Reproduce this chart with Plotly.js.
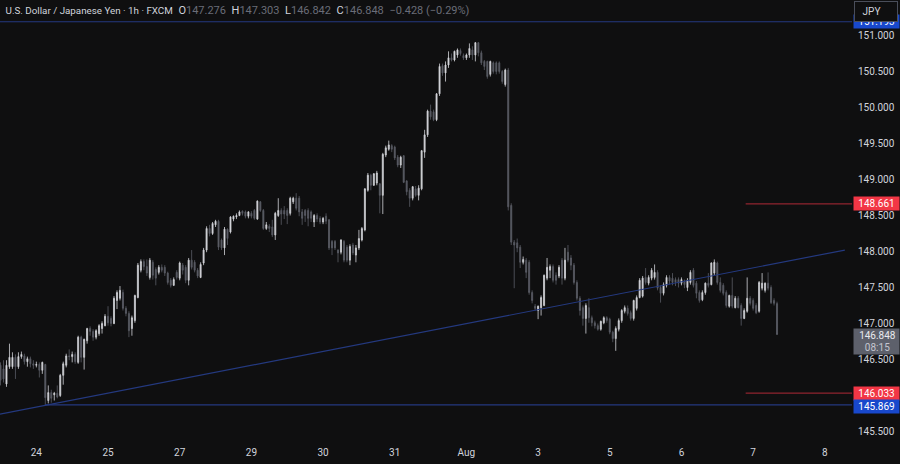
<!DOCTYPE html>
<html><head><meta charset="utf-8">
<script src="https://cdn.plot.ly/plotly-3.0.1.min.js"></script>
<style>html,body{margin:0;padding:0;background:#0f0f10}#c{width:900px;height:464px}</style>
</head><body><div id="c"></div>
<script>
const open=[146.42,146.37,146.16,146.40,146.40,146.53,146.40,146.54,146.55,146.47,
146.51,146.44,146.42,146.43,146.35,146.43,145.93,146.04,146.01,146.03,
146.00,146.28,146.42,146.55,146.54,146.57,146.46,146.81,146.53,146.76,
146.93,146.89,146.81,146.86,146.93,146.97,147.10,147.07,147.00,147.32,
147.35,147.43,147.21,147.14,146.93,147.04,147.36,147.74,147.86,147.79,
147.64,147.85,147.75,147.71,147.78,147.78,147.70,147.60,147.53,147.71,
147.63,147.81,147.78,147.60,147.88,147.85,147.74,147.64,147.84,148.02,
148.32,148.25,148.37,148.42,148.16,148.05,148.31,148.27,148.45,148.48,
148.50,148.56,148.55,148.49,148.53,148.57,148.45,148.69,148.57,148.32,
148.35,148.34,148.23,148.50,148.57,148.57,148.57,148.53,148.69,148.74,
148.74,148.55,148.57,148.57,148.55,148.41,148.50,148.46,148.41,148.49,
148.44,148.14,148.14,148.02,147.99,148.14,148.06,147.88,148.09,147.95,
148.05,148.16,148.30,148.85,149.06,148.92,148.95,148.94,148.78,149.34,
149.42,149.47,149.45,149.31,149.20,149.33,148.98,148.85,148.74,148.87,
148.78,148.87,149.38,149.62,149.95,149.94,149.83,150.19,150.58,150.48,
150.59,150.69,150.66,150.73,150.79,150.72,150.69,150.73,150.80,150.73,
150.90,150.76,150.64,150.64,150.46,150.62,150.62,150.62,150.50,150.32,
150.52,
148.64,148.13,148.12,148.06,147.85,147.88,147.85,147.43,147.24,147.18,
147.22,147.25,147.63,147.74,147.79,147.67,147.66,147.88,147.63,147.99,
147.91,147.81,147.57,147.35,147.22,147.07,147.22,147.08,147.01,146.97,
146.92,147.01,147.08,147.06,146.88,146.79,146.92,147.04,147.17,147.21,
147.15,147.07,147.21,147.36,147.38,147.64,147.56,147.63,147.64,147.71,
147.50,147.42,147.53,147.64,147.63,147.61,147.61,147.56,147.59,147.50,
147.57,147.74,147.56,147.43,147.33,147.43,147.56,147.54,147.70,147.84,
147.57,147.53,147.43,147.24,147.39,147.22,147.35,147.25,147.07,147.17,
147.35,147.32,147.25,147.17,147.49,147.46,147.56,147.50,147.32,147.276];
const high=[146.46,146.49,146.49,146.72,146.60,146.57,146.60,146.61,146.58,146.54,
146.54,146.49,146.47,146.46,146.47,146.44,146.14,146.08,146.05,146.14,
146.30,146.47,146.58,146.64,146.61,146.60,146.83,146.83,146.79,146.94,
146.96,146.92,146.92,146.99,147.03,147.13,147.24,147.10,147.38,147.46,
147.52,147.47,147.24,147.17,147.11,147.40,147.84,147.89,147.89,147.89,
147.91,147.88,147.78,147.81,147.82,147.81,147.72,147.63,147.64,147.74,
147.86,147.84,147.81,147.91,148.02,147.88,147.77,147.85,148.05,148.35,
148.37,148.41,148.44,148.44,148.18,148.34,148.32,148.49,148.50,148.53,
148.57,148.57,148.57,148.56,148.56,148.59,148.71,148.70,148.59,148.41,
148.38,148.44,148.55,148.74,148.60,148.63,148.60,148.76,148.76,148.81,
148.77,148.59,148.59,148.60,148.57,148.52,148.53,148.49,148.48,148.53,
148.45,148.16,148.16,148.03,148.17,148.16,148.09,148.10,148.12,148.09,
148.30,148.34,148.88,149.09,149.08,149.09,149.12,148.95,149.37,149.47,
149.54,149.49,149.47,149.34,149.33,149.34,148.99,148.88,148.91,148.91,
148.92,149.41,149.69,149.97,150.04,149.97,150.20,150.61,150.61,150.64,
150.78,150.75,150.79,150.82,150.82,150.75,150.75,150.89,150.85,150.91,
150.91,150.79,150.66,150.65,150.65,150.64,150.64,150.64,150.52,150.54,
150.55,
148.67,148.16,148.18,148.09,147.93,147.91,147.88,147.46,147.27,147.25,
147.39,147.68,147.91,147.82,147.82,147.71,147.81,147.91,148.05,148.09,
147.95,147.84,147.60,147.38,147.25,147.28,147.35,147.11,147.04,147.00,
147.04,147.10,147.10,147.08,146.90,146.96,147.07,147.20,147.25,147.25,
147.18,147.33,147.39,147.63,147.66,147.77,147.67,147.77,147.82,147.74,
147.53,147.57,147.67,147.67,147.70,147.64,147.64,147.64,147.61,147.63,
147.74,147.77,147.59,147.46,147.46,147.57,147.70,147.85,147.89,147.86,
147.64,147.56,147.46,147.40,147.64,147.38,147.38,147.28,147.21,147.64,
147.38,147.35,147.28,147.59,147.70,147.57,147.71,147.53,147.35,147.303];
const low=[146.14,146.18,146.12,146.37,146.37,146.23,146.37,146.51,146.43,146.40,
146.39,146.37,146.39,146.25,146.30,145.86,145.89,145.90,145.93,145.96,
145.98,146.15,146.39,146.49,146.46,146.44,146.44,146.46,146.36,146.72,
146.83,146.76,146.78,146.83,146.86,146.96,146.97,146.96,146.99,147.20,
147.32,147.18,147.10,146.81,146.83,147.01,147.35,147.71,147.74,147.66,
147.61,147.61,147.53,147.68,147.71,147.66,147.54,147.50,147.52,147.61,
147.60,147.68,147.56,147.53,147.75,147.71,147.63,147.63,147.81,147.99,
148.21,148.23,148.34,148.02,148.02,147.95,148.09,148.25,148.42,148.45,
148.49,148.50,148.46,148.46,148.46,148.44,148.44,148.55,148.30,148.30,
148.27,148.20,148.16,148.48,148.37,148.45,148.38,148.50,148.66,148.57,
148.49,148.37,148.41,148.35,148.41,148.34,148.41,148.38,148.38,148.38,
148.02,147.95,148.02,147.85,147.96,147.85,147.85,147.81,147.95,147.85,
148.02,148.14,148.28,148.83,148.85,148.91,148.92,148.53,148.52,149.31,
149.40,149.38,149.27,149.17,149.16,148.95,148.78,148.62,148.71,148.76,
148.71,148.85,149.30,149.59,149.83,149.81,149.81,150.16,150.44,150.36,
150.55,150.64,150.64,150.69,150.72,150.66,150.66,150.69,150.66,150.64,
150.71,150.59,150.52,150.40,150.43,150.47,150.46,150.47,150.33,150.29,
148.57,
148.09,147.49,147.99,147.77,147.82,147.63,147.40,147.28,147.18,147.06,
147.11,147.24,147.60,147.63,147.57,147.54,147.63,147.54,147.60,147.85,
147.74,147.54,147.32,147.11,146.97,146.86,147.01,146.96,146.93,146.90,
146.90,146.99,147.01,146.85,146.74,146.62,146.89,147.01,147.14,147.11,
147.04,147.04,147.18,147.35,147.36,147.54,147.53,147.60,147.61,147.46,
147.29,147.39,147.50,147.54,147.53,147.52,147.50,147.53,147.49,147.45,
147.54,147.50,147.35,147.29,147.31,147.40,147.50,147.53,147.67,147.54,
147.43,147.39,147.22,147.22,147.21,147.21,147.21,146.97,147.06,147.15,
147.25,147.18,147.13,147.15,147.46,147.43,147.46,147.27,147.25,146.842];
const close=[146.21,146.23,146.42,146.53,146.53,146.40,146.54,146.57,146.47,146.51,
146.44,146.42,146.43,146.35,146.46,145.97,146.04,145.96,146.03,145.98,
146.28,146.44,146.55,146.54,146.57,146.47,146.81,146.53,146.78,146.93,
146.89,146.81,146.90,146.97,147.00,147.10,147.01,147.00,147.35,147.43,
147.46,147.21,147.14,146.90,147.08,147.39,147.81,147.86,147.79,147.70,
147.88,147.67,147.63,147.78,147.74,147.70,147.57,147.53,147.61,147.64,
147.84,147.74,147.60,147.88,147.78,147.74,147.66,147.82,148.02,148.32,
148.25,148.39,148.42,148.06,148.05,148.31,148.18,148.48,148.49,148.50,
148.55,148.53,148.49,148.55,148.49,148.46,148.70,148.57,148.32,148.37,
148.32,148.23,148.53,148.57,148.52,148.52,148.50,148.74,148.74,148.60,
148.55,148.46,148.50,148.46,148.46,148.50,148.45,148.41,148.46,148.42,
148.05,148.05,148.05,147.98,148.16,147.88,147.88,148.07,147.98,148.05,
148.18,148.32,148.87,149.06,148.92,149.08,149.09,148.78,149.35,149.44,
149.48,149.42,149.30,149.20,149.31,148.96,148.83,148.74,148.90,148.78,
148.88,149.40,149.62,149.95,149.87,149.83,150.19,150.57,150.48,150.59,
150.69,150.66,150.78,150.80,150.75,150.69,150.73,150.82,150.73,150.90,
150.76,150.62,150.57,150.43,150.64,150.50,150.50,150.50,150.36,150.52,
148.62,
148.13,148.09,148.05,147.85,147.89,147.71,147.43,147.32,147.21,147.24,
147.36,147.67,147.78,147.79,147.60,147.60,147.78,147.63,147.88,147.88,
147.81,147.57,147.35,147.18,147.07,147.25,147.08,147.01,146.97,146.92,
147.03,147.08,147.04,146.88,146.79,146.93,147.04,147.18,147.22,147.14,
147.07,147.32,147.36,147.60,147.63,147.57,147.64,147.74,147.71,147.49,
147.42,147.54,147.64,147.59,147.57,147.57,147.56,147.61,147.54,147.60,
147.71,147.53,147.42,147.32,147.43,147.56,147.53,147.84,147.85,147.57,
147.46,147.42,147.25,147.39,147.24,147.35,147.22,147.07,147.18,147.35,
147.28,147.21,147.15,147.57,147.56,147.56,147.49,147.29,147.28,146.848];

const dayTickBars=[12,36,60,84,108,132,156,180,204,228,252,276];
const dayTickLabels=['24','25','27','29','30','31','Aug','3','5','6','7','8'];
const priceTicks=[145.5,146.5,147,147.5,148,148.5,149,149.5,150,150.5,151];

const trendBars=[-0.17,282.7], trendPrices=[145.74,148.02];
const supportPrice=145.869, supportStartBar=15;
const topLevel=151.19;
const redLevels=[148.661,146.033], redStartBar=249.5;
const lastPrice=146.848;

const BG='#0f0f10', TXT='#d1d4dc', NAVY='#24397f', RED='#f23645', BLUE='#1848cc', GRAY='#5d606b';
const barIndex=close.map((_,i)=>i);

const candle={type:'candlestick',x:barIndex,open:open,high:high,low:low,close:close,
  whiskerwidth:0,hoverinfo:'skip',showlegend:false,
  increasing:{line:{color:'#d2d3d8',width:0.8},fillcolor:'#d2d3d8'},
  decreasing:{line:{color:'#5b5d66',width:0.8},fillcolor:'#5b5d66'}};

const hline=(x0,y,color,w)=>({type:'line',xref:'x',yref:'y',x0:x0,x1:285.1,y0:y,y1:y,line:{color:color,width:w}});
const shapes=[
 {type:'line',xref:'x',yref:'y',x0:trendBars[0],x1:trendBars[1],y0:trendPrices[0],y1:trendPrices[1],line:{color:NAVY,width:1.2}},
 hline(supportStartBar,supportPrice,NAVY,1.3),
 hline(-0.17,topLevel,NAVY,1.1),
 hline(redStartBar,redLevels[0],'#b02a37',1),
 hline(redStartBar,redLevels[1],'#b02a37',1)
];
const tag=(y,text,bg,h,shift)=>({xref:'paper',yref:'y',x:1.0008,y:y,xanchor:'left',yanchor:'middle',text:text,yshift:shift||0,
  showarrow:false,bgcolor:bg,width:45,height:h||13,borderpad:0,align:'center',font:{family:'Roboto',size:10,color:'#ffffff'}});
const plain=(y,text,color)=>({xref:'paper',yref:'y',x:1.0008,y:y,xanchor:'left',yanchor:'middle',text:text,
  showarrow:false,width:45,align:'center',font:{family:'Roboto',size:10,color:color}});
const annotations=[
 tag(topLevel,'151.193',BLUE),
 tag(redLevels[0],'148.661',RED),
 tag(redLevels[1],'146.033',RED),
 tag(supportPrice,'145.869',BLUE,13,-1.5),
 tag(146.75,'\u00a0',GRAY,25),
 plain(146.83,'146.848','#e8e9ee'),
 plain(146.67,'08:15','#c4c6cf'),
 {xref:'paper',yref:'paper',x:1.0285,y:0.975,xanchor:'center',yanchor:'middle',text:'\u2002\u00a0JPY',showarrow:false,
  bgcolor:BG,bordercolor:'#4a4e5a',borderwidth:1,width:42,height:19,borderpad:0,align:'left',font:{family:'Roboto',size:10,color:TXT}}
];
const m='<span style="color:#6a6d78">';
const sp='\u2002';
const titleText='<span style="color:#d1d4dc;font-size:9.8px">U.S. Dollar / Japanese Yen · 1h · FXCM</span>'+sp+'O'+m+'147.276</span>'+sp+'H'+m+'147.303</span>'+sp+'L'+m+'146.842</span>'+sp+'C'+m+'146.848</span>'+sp+m+'−0.428 (−0.29%)</span>';

Plotly.newPlot('c',[candle],{
  width:900,height:464,margin:{l:0,r:48,t:0,b:22,pad:0},
  paper_bgcolor:BG,plot_bgcolor:BG,showlegend:false,boxgap:0.5,
  font:{family:'Roboto',size:11,color:TXT},
  title:{text:titleText,x:0.0065,xanchor:'left',xref:'paper',y:0.978,yanchor:'middle',yref:'container',font:{family:'Roboto',size:11,color:TXT}},
  xaxis:{type:'linear',range:[-0.17,285.1],rangeslider:{visible:false},showgrid:false,zeroline:false,showline:false,
    tickmode:'array',tickvals:dayTickBars,ticktext:dayTickLabels,ticks:'',ticklabelstandoff:3,tickfont:{family:'Roboto',size:10,color:TXT}},
  yaxis:{side:'right',range:[145.354,151.493],showgrid:false,zeroline:false,showline:false,
    tickmode:'array',tickvals:priceTicks,tickformat:'.3f',ticks:'',ticklabelstandoff:5,tickfont:{family:'Roboto',size:10,color:TXT}},
  shapes:shapes,annotations:annotations
},{displayModeBar:false,staticPlot:true});
</script></body></html>
